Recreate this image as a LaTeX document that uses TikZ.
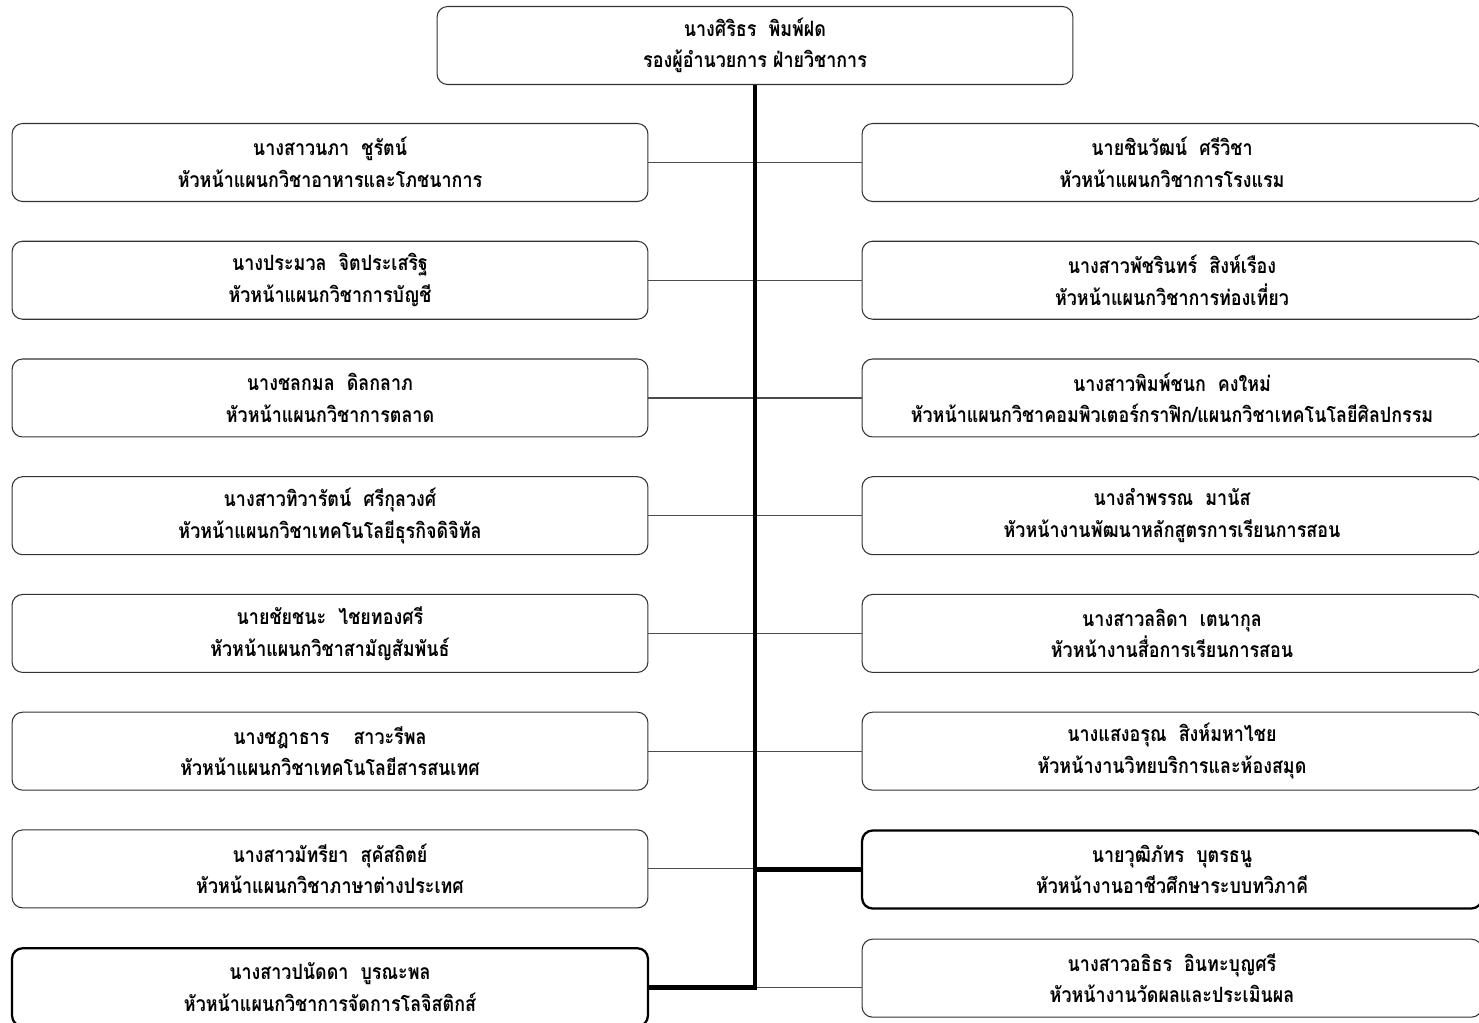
\documentclass[tikz,border=0pt]{standalone}
\usepackage{fontspec}
\newfontfamily\thaifont[Script=Thai, FakeStretch=0.85]{Loma}
\usetikzlibrary{positioning}
\tikzset{
    unitbox/.style={draw=black!80, fill=white, rounded corners=6pt, line width=0.6pt,
                    minimum width=12.72cm, minimum height=1.56cm, align=center,
                    font=\thaifont\bfseries\fontsize{12}{18}\selectfont},
    keybox/.style={unitbox, draw=black, line width=1.3pt},
    trunk/.style={line width=2.8pt},
    twig/.style={draw=black!70, line width=0.6pt}
}

\begin{document}
\begin{tikzpicture}
  [
    x                       = 0.02cm,
    y                       = -0.02cm,
    node distance           = 0.774cm,
  ]
  \useasboundingbox[fill=white] (0,0) rectangle (1479,1022);

  \node [unitbox] (top) at (755,45.5) {นางศิริธร\ \ พิมพ์ฝด\\รองผู้อำนวยการ ฝ่ายวิชาการ};

  % left column
  \node [unitbox] (l1) at (330,162.5) {นางสาวนภา\ \ ชูรัตน์\\หัวหน้าแผนกวิชาอาหารและโภชนาการ};
  \node [unitbox, below=of l1] (l2) {นางประมวล\ \ จิตประเสริฐ\\หัวหน้าแผนกวิชาการบัญชี};
  \node [unitbox, below=of l2] (l3) {นางชลกมล\ \ ดิลกลาภ\\หัวหน้าแผนกวิชาการตลาด};
  \node [unitbox, below=of l3] (l4) {นางสาวทิวารัตน์\ \ ศรีกุลวงศ์\\หัวหน้าแผนกวิชาเทคโนโลยีธุรกิจดิจิทัล};
  \node [unitbox, below=of l4] (l5) {นายชัยชนะ\ \ ไชยทองศรี\\หัวหน้าแผนกวิชาสามัญสัมพันธ์};
  \node [unitbox, below=of l5] (l6) {นางชฎาธาร\ \ \ \ สาวะรีพล\\หัวหน้าแผนกวิชาเทคโนโลยีสารสนเทศ};
  \node [unitbox, below=of l6] (l7) {นางสาวมัทรียา\ \ สุคัสถิตย์\\หัวหน้าแผนกวิชาภาษาต่างประเทศ};
  \node [keybox,  below=of l7] (l8) {นางสาวปนัดดา\ \ บูรณะพล\\หัวหน้าแผนกวิชาการจัดการโลจิสติกส์};

  % right column
  \node [unitbox, minimum width=12.4cm] (r1) at (1172,162.5) {นายชินวัฒน์\ \ ศรีวิชา\\หัวหน้าแผนกวิชาการโรงแรม};
  \node [unitbox, minimum width=12.4cm, below=of r1] (r2) {นางสาวพัชรินทร์\ \ สิงห์เรือง\\หัวหน้าแผนกวิชาการท่องเที่ยว};
  \node [unitbox, minimum width=12.4cm, below=of r2] (r3) {นางสาวพิมพ์ชนก\ \ คงใหม่\\หัวหน้าแผนกวิชาคอมพิวเตอร์กราฟิก/แผนกวิชาเทคโนโลยีศิลปกรรม};
  \node [unitbox, minimum width=12.4cm, below=of r3] (r4) {นางลำพรรณ\ \ มานัส\\หัวหน้างานพัฒนาหลักสูตรการเรียนการสอน};
  \node [unitbox, minimum width=12.4cm, below=of r4] (r5) {นางสาวลลิดา\ \ เตนากุล\\หัวหน้างานสื่อการเรียนการสอน};
  \node [unitbox, minimum width=12.4cm, below=of r5] (r6) {นางแสงอรุณ\ \ สิงห์มหาไชย\\หัวหน้างานวิทยบริการและห้องสมุด};
  \node [keybox,  minimum width=12.4cm, below=of r6] (r7) {นายวุฒิภัทร\ \ บุตรธนู\\หัวหน้างานอาชีวศึกษาระบบทวิภาคี};
  \node [unitbox, minimum width=12.4cm, below=0.58cm of r7] (r8) {นางสาวอธิธร\ \ อินทะบุญศรี\\หัวหน้างานวัดผลและประเมินผล};

  % connectors
  \coordinate (base) at (top.south |- l8.east);
  \foreach \i in {1,...,7}
    \draw [twig] (l\i.east) -- (l\i.east -| top.south);
  \foreach \i in {1,...,6}
    \draw [twig] (r\i.west) -- (r\i.west -| top.south);
  \draw [twig] (base) -- (base -| r8.west);
  \draw [trunk] (r7.west -| top.south) -- (r7.west);
  \draw [trunk] (top.south) |- (l8.east);
\end{tikzpicture}
\end{document}
